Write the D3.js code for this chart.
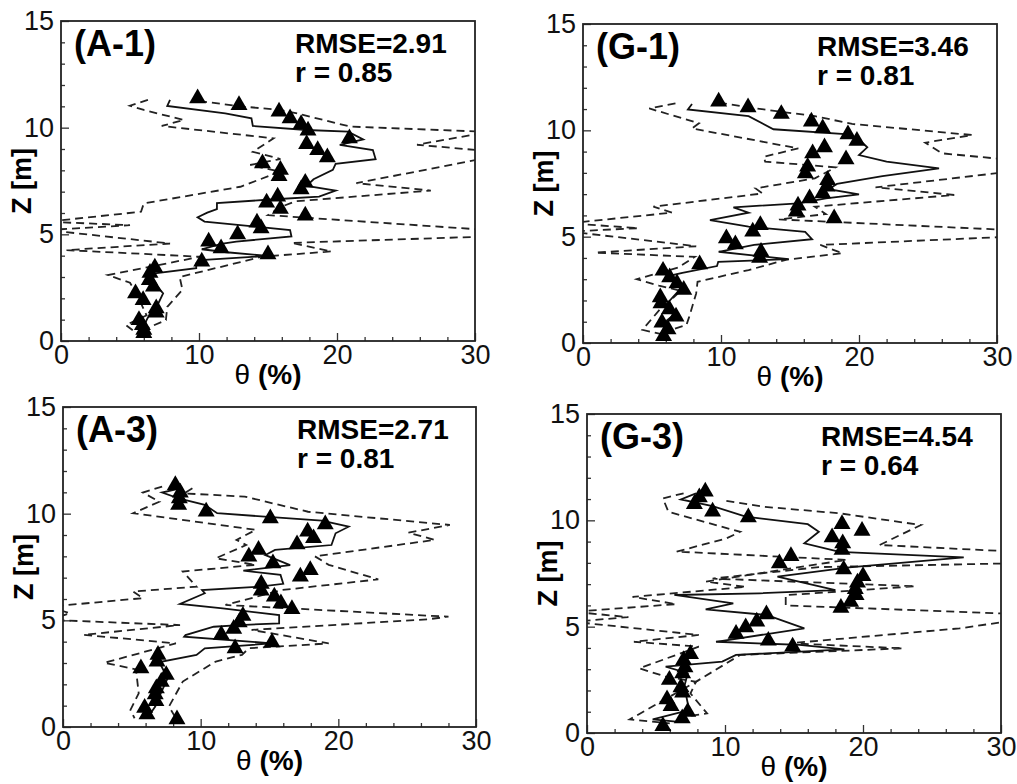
<!DOCTYPE html>
<html>
<head>
<meta charset="utf-8">
<script src="https://cdn.jsdelivr.net/npm/d3@7/dist/d3.min.js"></script>
<style>
body { margin: 0; background: #fff; }
text { font-family: "Liberation Sans", Arial, sans-serif; }
</style>
</head>
<body>
<svg id="chart" width="1017" height="784"></svg>
<script>
// axis ranges and ticks
var xDomain = [0, 30], yDomain = [0, 15];
var xMajor = [0, 10, 20, 30], yMajor = [0, 5, 10, 15];
var xMinor = [2, 4, 6, 8, 12, 14, 16, 18, 22, 24, 26, 28];
var yMinor = [1, 2, 3, 4, 6, 7, 8, 9, 11, 12, 13, 14];

var panelNames = ["(A-1)", "(G-1)", "(A-3)", "(G-3)"];
var rmseValues = ["2.91", "3.46", "2.71", "4.54"];
var rValues = ["0.85", "0.81", "0.81", "0.64"];

// [theta %, z m]
var a1Obs = [[9.9,11.38],[12.9,11.06],[15.8,10.75],[16.6,10.44],[17.4,10.17],[17.9,9.86],[20.9,9.5],[17.8,9.23],[18.6,8.95],[19.3,8.61],[14.6,8.33],[15.9,8.02],[15.8,7.73],[17.7,7.42],[17.4,7.11],[15.7,6.77],[14.9,6.49],[15.9,6.19],[17.7,5.88],[14.2,5.55],[14.5,5.28],[12.8,5.0],[10.7,4.66],[11.6,4.34],[15.0,4.06],[10.2,3.72],[6.8,3.44],[6.45,3.2],[6.4,2.86],[6.7,2.55],[5.4,2.23],[5.95,1.92],[6.9,1.53],[6.9,1.33],[5.65,0.98],[5.9,0.75],[6.0,0.52],[6.0,0.37]];
var a1Mean = [[7.9,11.3],[7.7,11.02],[11.9,10.67],[13.8,10.44],[13.9,10.08],[17.8,9.89],[20.8,9.81],[21.9,9.45],[20.2,9.19],[22.6,8.95],[22.8,8.52],[19.9,8.3],[19.7,8.02],[18.3,7.58],[17.8,7.27],[19.9,7.05],[18.7,6.77],[14.9,6.62],[11.3,6.46],[11.3,6.18],[10.6,6.02],[9.9,5.8],[10.4,5.6],[14.1,5.36],[16.6,5.2],[16.7,4.9],[12.7,4.66],[11.6,4.55],[10.2,4.3],[12.0,4.16],[15.0,3.99],[10.4,3.8],[9.8,3.64],[9.8,3.41],[6.8,3.17],[6.45,2.94],[6.8,2.7],[7.4,2.23],[7.05,1.76],[6.45,1.29],[6.2,0.98],[6.0,0.67],[6.2,0.44],[6.0,0.28]];
var a1Upper = [[10.0,11.25],[13.0,11.0],[15.9,10.83],[17.3,10.64],[20.0,10.2],[21.0,10.05],[31,9.8],[25.8,9.2],[31,8.9],[31,8.6],[21.4,7.4],[26.8,7.05],[17,6.55],[16,6.3],[15,5.9],[31,5.2],[31,4.9],[16.7,4.6],[19.6,4.2],[14.5,3.95],[13,3.7],[8.6,3.0],[8.8,2.4],[7.7,1.6],[7.6,0.98],[6.5,0.67],[5.6,0.45]];
var a1Lower = [[6.3,11.3],[5.0,11.03],[6.0,10.83],[8.9,10.36],[7.3,10.08],[15.4,9.5],[13.9,8.87],[15.9,8.53],[13.7,8.25],[15.9,7.94],[13.0,7.23],[6.0,6.45],[5.8,6.06],[-1,5.59],[5,5.43],[-1,5.2],[7.9,4.57],[0.4,4.26],[10.1,3.95],[3.4,3.09],[5.0,2.73],[5.4,2.3],[5.8,1.76],[6.2,1.2],[4.7,0.75],[5.2,0.5]];

var g1Obs = [[9.83,11.35],[11.96,11.08],[14.37,10.77],[16.55,10.41],[17.37,10.09],[19.2,9.81],[19.85,9.51],[17.5,9.2],[16.64,8.92],[19.06,8.64],[16.28,8.29],[16.11,7.98],[17.73,7.66],[17.68,7.35],[17.37,7.04],[16.42,6.8],[15.58,6.46],[15.46,6.18],[18.2,5.86],[12.85,5.55],[12.3,5.24],[10.39,4.92],[11.04,4.64],[12.9,4.29],[12.8,4.01],[8.45,3.7],[5.8,3.4],[6.28,3.09],[6.81,2.81],[7.3,2.5],[5.6,2.15],[5.65,1.86],[6.26,1.58],[6.74,1.24],[5.72,0.96],[6.16,0.64],[5.84,0.33]];
var g1Mean = [[7.9,11.24],[7.6,10.98],[12.0,10.67],[13.8,10.05],[19.25,9.81],[20.1,9.51],[20.6,9.2],[20.0,8.84],[22.0,8.53],[25.8,8.21],[21.7,7.85],[18.4,7.48],[17.8,7.23],[20.0,6.99],[17.6,6.8],[15.6,6.57],[10.9,6.38],[12.0,6.13],[9.2,5.78],[12.0,5.47],[16.1,5.23],[16.6,4.88],[12.4,4.61],[9.83,4.29],[14.9,3.94],[9.8,3.82],[9.71,3.62],[7.2,3.3],[6.2,3.15],[7.2,2.65],[6.1,1.86],[6.7,1.39],[5.85,0.94],[6.2,0.46]];
var g1Upper = [[9.85,11.3],[12.0,11.08],[14.4,10.87],[16.8,10.67],[19.5,10.3],[28.2,9.78],[24.8,9.42],[26.0,8.92],[31,8.61],[31,8.06],[21.2,7.32],[26.9,6.96],[16.8,6.41],[17.6,6.06],[14.2,5.81],[31,5.31],[31,5.0],[17.2,4.61],[18.8,4.22],[14.7,3.91],[12.0,3.43],[8.3,2.88],[8.2,2.33],[7.7,1.24],[7.5,0.85],[6.0,0.53]];
var g1Lower = [[6.7,11.27],[4.8,11.03],[8.4,10.33],[7.9,10.09],[15.6,9.15],[13.1,8.76],[13.2,8.53],[18.3,8.26],[16.8,7.74],[12.5,7.27],[13.0,7.03],[5.1,6.41],[6.45,6.13],[-1,5.63],[4,5.4],[-1,5.24],[8.2,4.55],[0.9,4.25],[8.1,4.05],[6.9,3.55],[3.9,3.0],[5.5,2.7],[7.1,2.45],[5.6,1.6],[4.3,0.62],[5.8,0.4]];

var a3Obs = [[8.16,11.34],[8.52,10.99],[8.45,10.72],[8.4,10.41],[10.4,10.1],[15.06,9.78],[19.05,9.5],[17.77,9.16],[18.2,8.85],[17.0,8.56],[14.2,8.3],[13.5,7.99],[15.25,7.67],[17.96,7.36],[17.24,7.05],[14.4,6.71],[14.4,6.39],[15.35,6.11],[15.83,5.8],[16.63,5.53],[13.07,5.21],[12.8,4.9],[12.4,4.6],[11.5,4.32],[15.18,3.97],[12.5,3.69],[6.9,3.38],[6.83,3.07],[5.66,2.75],[7.5,2.44],[7.14,2.12],[6.78,1.81],[6.7,1.53],[6.75,1.22],[5.93,0.9],[6.1,0.59],[8.28,0.36]];
var a3Mean = [[8.2,11.14],[7.2,10.99],[8.4,10.72],[10.3,10.41],[11.2,10.02],[18.8,9.67],[20.75,9.39],[19.8,9.08],[19.5,8.53],[15.4,8.3],[14.7,8.06],[16.5,7.59],[13.1,7.33],[15.8,7.13],[16.0,6.71],[14.3,6.58],[10.1,6.42],[10.3,6.27],[8.5,5.77],[11.6,5.56],[15.7,5.25],[15.7,4.86],[12.8,4.78],[10.95,4.7],[8.9,4.31],[8.8,4.23],[15.2,3.92],[10.3,3.69],[9.7,3.38],[7.2,3.07],[7.1,2.91],[7.6,2.28],[7.1,1.58],[6.7,0.96],[6.2,0.49]];
var a3Upper = [[9.4,11.19],[8.8,10.95],[13.2,10.8],[17.8,10.09],[28.1,9.47],[25.1,9.11],[27.0,8.77],[18.3,8.0],[19.3,7.6],[22.9,6.92],[15.9,6.42],[11.8,5.72],[28.0,5.17],[26.5,5.05],[13.7,4.55],[19.3,3.92],[13.5,3.69],[13.0,3.38],[11.1,3.07],[8.7,2.13],[7.7,0.96],[8.2,0.41]];
var a3Lower = [[7.2,11.27],[5.8,10.99],[7.0,10.56],[5.1,10.02],[14.0,9.24],[12.6,8.77],[13.3,8.53],[11.1,7.91],[14.0,7.6],[8.7,7.29],[9.7,6.58],[5.1,6.35],[5.8,6.04],[-1,5.64],[0.5,5.33],[-1,5.02],[8.5,4.78],[1.5,4.32],[8.2,3.92],[3.0,3.01],[5.3,2.7],[5.5,1.58],[4.9,0.8],[5.2,0.41]];

var g3Obs = [[8.57,11.35],[8.14,11.08],[7.78,10.76],[9.1,10.41],[11.69,10.14],[18.48,9.82],[19.93,9.51],[17.76,9.2],[18.53,8.92],[18.48,8.61],[14.78,8.32],[13.94,7.98],[18.6,7.69],[20.0,7.38],[19.6,7.07],[19.44,6.77],[19.5,6.49],[19.1,6.17],[18.4,5.89],[13.0,5.58],[12.3,5.24],[11.5,4.97],[10.8,4.66],[13.14,4.34],[14.9,4.06],[7.5,3.71],[7.0,3.43],[7.1,3.09],[6.93,2.81],[5.97,2.5],[6.81,2.15],[6.93,1.9],[5.8,1.58],[6.09,1.27],[7.3,1.0],[6.9,0.69],[5.5,0.33]];
var g3Mean = [[7.9,11.27],[6.8,10.98],[9.1,10.67],[11.5,10.17],[16.0,9.82],[16.8,9.46],[15.75,8.92],[18.3,8.52],[27.3,8.26],[19.0,7.79],[13.8,7.35],[18.0,6.72],[12.5,6.57],[6.33,6.49],[10.6,6.1],[8.6,5.81],[13.0,5.55],[15.75,4.92],[9.35,4.29],[15.4,4.14],[18.65,3.93],[10.8,3.67],[9.8,3.36],[5.7,3.12],[7.3,2.81],[7.05,2.18],[7.3,1.4],[7.4,1.08],[4.76,0.64],[6.45,0.53]];
var g3Upper = [[10.1,10.92],[12.8,10.64],[18.3,10.33],[24.2,9.78],[21.2,8.84],[31,8.53],[31,7.98],[16.8,7.8],[9.1,7.26],[23.8,6.9],[14.4,6.48],[14.4,6.0],[31,5.6],[31,5.3],[27.0,4.92],[14.7,4.22],[22.9,3.98],[11.1,3.67],[7.9,2.41],[7.5,1.86],[8.7,0.92],[7.0,0.77]];
var g3Lower = [[7.0,11.27],[5.5,11.03],[5.9,10.4],[11.1,9.46],[10.1,9.15],[6.5,8.53],[18.8,8.14],[8.6,7.12],[11.5,6.87],[3.3,6.4],[6.45,6.06],[-1,5.7],[3,5.45],[-1,5.23],[8.1,4.61],[3.4,4.29],[8.1,4.06],[3.8,3.04],[5.7,2.65],[7.9,2.41],[3.1,0.64],[6.0,0.45]];

var panels = [
    {box: [61, 21, 475, 341], obs: a1Obs, mean: a1Mean, upper: a1Upper, lower: a1Lower},
    {box: [583, 24, 997, 343], obs: g1Obs, mean: g1Mean, upper: g1Upper, lower: g1Lower},
    {box: [63, 407, 476, 727], obs: a3Obs, mean: a3Mean, upper: a3Upper, lower: a3Lower},
    {box: [587, 414, 1001, 733], obs: g3Obs, mean: g3Mean, upper: g3Upper, lower: g3Lower}
];

var svg = d3.select("#chart");

panels.forEach(function(p, i) {
    var x0 = p.box[0], y0 = p.box[1], x1 = p.box[2], y1 = p.box[3];
    var w = x1 - x0, h = y1 - y0;

    var x = d3.scaleLinear().domain(xDomain).range([0, w]);
    var y = d3.scaleLinear().domain(yDomain).range([h, 0]);

    var g = svg.append("g").attr("transform", "translate(" + x0 + "," + y0 + ")");

    g.append("clipPath").attr("id", "clip" + i)
        .append("rect").attr("width", w).attr("height", h);

    // minor ticks
    g.append("g").attr("transform", "translate(0," + h + ")")
        .call(d3.axisBottom(x).tickValues(xMinor).tickSize(-4).tickSizeOuter(0).tickFormat(""));
    g.append("g")
        .call(d3.axisLeft(y).tickValues(yMinor).tickSize(-4).tickSizeOuter(0).tickFormat(""));

    // major ticks
    g.append("g").attr("transform", "translate(0," + h + ")")
        .call(d3.axisBottom(x).tickValues(xMajor).tickSize(-8).tickSizeOuter(0).tickPadding(4));
    g.append("g")
        .call(d3.axisLeft(y).tickValues(yMajor).tickSize(-8).tickSizeOuter(0).tickPadding(7));

    g.selectAll(".domain").remove();
    g.selectAll(".tick line").attr("stroke", "#333").attr("stroke-width", 1.3);
    g.selectAll(".tick text")
        .attr("font-family", "'Liberation Sans', Arial, sans-serif")
        .attr("font-size", "27px")
        .attr("fill", "#111");

    var lineGen = d3.line()
        .x(function(d) { return x(d[0]); })
        .y(function(d) { return y(d[1]); });

    var plot = g.append("g").attr("clip-path", "url(#clip" + i + ")");

    [p.upper, p.lower].forEach(function(s) {
        plot.append("path")
            .datum(s)
            .attr("fill", "none")
            .attr("stroke", "#222")
            .attr("stroke-width", 1.8)
            .attr("stroke-dasharray", "8,5")
            .attr("d", lineGen);
    });

    plot.append("path")
        .datum(p.mean)
        .attr("fill", "none")
        .attr("stroke", "#111")
        .attr("stroke-width", 1.8)
        .attr("d", lineGen);

    plot.selectAll(".obs")
        .data(p.obs)
        .enter().append("path")
        .attr("class", "obs")
        .attr("transform", function(d) { return "translate(" + x(d[0]) + "," + y(d[1]) + ")"; })
        .attr("d", d3.symbol(d3.symbolTriangle, 125))
        .attr("fill", "#000");

    // frame
    g.append("rect")
        .attr("width", w).attr("height", h)
        .attr("fill", "none")
        .attr("stroke", "#222")
        .attr("stroke-width", 1.8);

    // labels inside
    g.append("text")
        .attr("x", 13).attr("y", 35)
        .attr("font-size", "36px")
        .attr("font-weight", "bold")
        .text(panelNames[i]);

    g.append("text")
        .attr("x", 234).attr("y", 32)
        .attr("font-size", "28px")
        .attr("font-weight", "bold")
        .text("RMSE=" + rmseValues[i]);

    g.append("text")
        .attr("x", 234).attr("y", 61)
        .attr("font-size", "28px")
        .attr("font-weight", "bold")
        .text("r = " + rValues[i]);

    // axis titles
    var xt = g.append("text")
        .attr("x", w / 2).attr("y", h + 43)
        .attr("text-anchor", "middle")
        .attr("font-size", "28px");
    xt.append("tspan").text("θ ");
    xt.append("tspan").attr("font-weight", "bold").text("(%)");

    g.append("text")
        .attr("transform", "translate(" + (-30) + "," + (h / 2) + ") rotate(-90)")
        .attr("text-anchor", "middle")
        .attr("font-size", "27px")
        .attr("font-weight", "bold")
        .text("Z [m]");
});
</script>
</body>
</html>
